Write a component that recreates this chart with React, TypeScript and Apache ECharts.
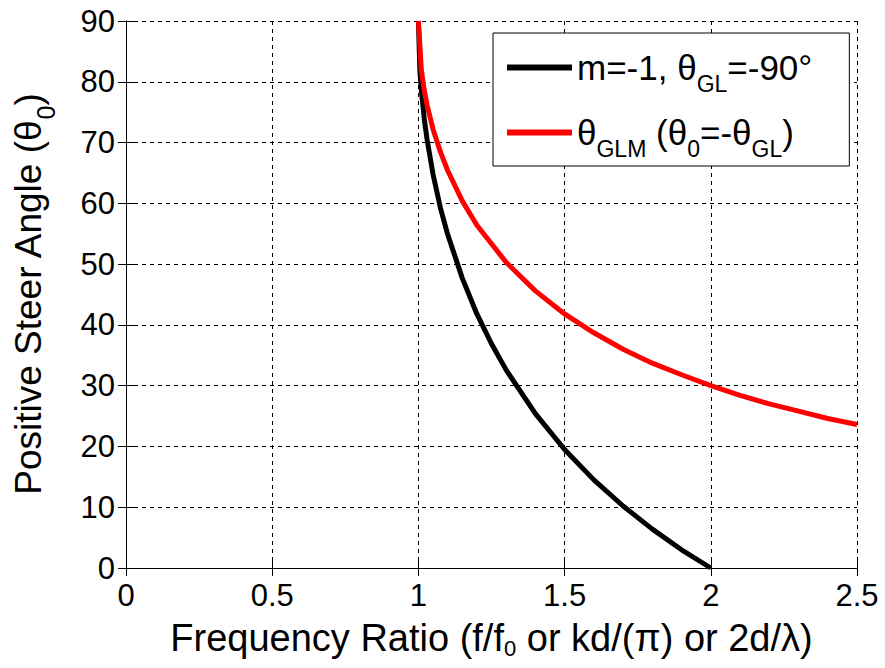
import React, { useEffect, useRef } from "react";
import * as echarts from "echarts";

// Frequency ratio (x) and positive steer angle in degrees (y)
const blackRatio = [1.0, 1.005, 1.01, 1.02, 1.03, 1.05, 1.075, 1.1, 1.15, 1.2, 1.25, 1.3, 1.4, 1.5, 1.6, 1.7, 1.8, 1.9, 2.0];
const blackAngle = [90, 81.9, 78.6, 73.9, 70.4, 64.8, 59.3, 54.9, 47.7, 41.8, 36.9, 32.6, 25.4, 19.5, 14.5, 10.2, 6.4, 3.0, 0];

const redRatio = [1.0, 1.01, 1.02, 1.03, 1.05, 1.075, 1.1, 1.15, 1.2, 1.3, 1.4, 1.5, 1.6, 1.7, 1.8, 1.9, 2.0, 2.1, 2.2, 2.3, 2.4, 2.5];
const redAngle = [90, 81.9, 78.6, 76.1, 72.2, 68.5, 65.4, 60.4, 56.4, 50.3, 45.6, 41.8, 38.7, 36.0, 33.7, 31.8, 30.0, 28.4, 27.0, 25.8, 24.6, 23.6];

const seriesNames = ["m=-1, θGL=-90°", "θGLM (θ0=-θGL)"];
const legendRich = [
  "{m|m=-1, θ}{s|GL}{m|=-90°}",
  "{m|θ}{s|GLM}{m| (θ}{s|0}{m|=-θ}{s|GL}{m|)}",
];

const xMin = 0, xMax = 2.5, xStep = 0.5;
const yMin = 0, yMax = 90, yStep = 10;

const FONT = "'Liberation Sans', Arial, Helvetica, sans-serif";

export default function App() {
  const ref = useRef<HTMLDivElement>(null);
  useEffect(() => {
    if (!ref.current) return;
    const chart = echarts.init(ref.current, null, { renderer: "svg" });
    const pairs = (xs: number[], ys: number[]) => xs.map((x, i) => [x, ys[i]]);
    const tickStyle = { show: true, inside: true, length: 8, lineStyle: { color: "#000", width: 1 } };
    const axisLine = { show: true, lineStyle: { color: "#000", width: 1 } };
    const split = { show: true, lineStyle: { color: "#000", width: 1, type: [4, 4] as any } };
    const label = { color: "#000", fontFamily: FONT, fontSize: 31 };
    chart.setOption({
      animation: false,
      backgroundColor: "#fff",
      grid: { left: 126, right: 28, top: 21, bottom: 100, containLabel: false, outerBoundsMode: "none" },
      xAxis: [
        {
          type: "value", min: xMin, max: xMax, interval: xStep,
          axisLine, axisTick: tickStyle, splitLine: split,
          axisLabel: { ...label, margin: 12 },
          name: "{t|Frequency Ratio (f/f}{s|0}{t| or kd/(π) or 2d/λ)}",
          nameLocation: "middle", nameGap: 38,
          nameTextStyle: {
            rich: {
              t: { fontFamily: FONT, fontSize: 38, color: "#000", lineHeight: 54 },
              s: { fontFamily: FONT, fontSize: 22, color: "#000", lineHeight: 22, padding: [22, 0, 0, 0] },
            },
          },
        },
        {
          type: "value", position: "top", min: xMin, max: xMax, interval: xStep,
          axisLine, axisTick: tickStyle, splitLine: { show: false }, axisLabel: { show: false },
        },
      ],
      yAxis: [
        {
          type: "value", min: yMin, max: yMax, interval: yStep,
          axisLine, axisTick: tickStyle, splitLine: split,
          axisLabel: { ...label, margin: 11 },
          name: "{t|Positive Steer Angle (θ}{s|0}{t|)}",
          nameLocation: "middle", nameGap: 76,
          nameTextStyle: {
            rich: {
              t: { fontFamily: FONT, fontSize: 37, color: "#000", lineHeight: 44 },
              s: { fontFamily: FONT, fontSize: 25, color: "#000", lineHeight: 25, padding: [36, 0, 0, 0] },
            },
          },
        },
        {
          type: "value", position: "right", min: yMin, max: yMax, interval: yStep,
          axisLine, axisTick: tickStyle, splitLine: { show: false }, axisLabel: { show: false },
        },
      ],
      legend: {
        show: true,
        orient: "vertical",
        left: 493,
        top: 33,
        padding: [7, 37, 6, 14],
        itemGap: 10,
        backgroundColor: "#fff",
        borderColor: "#000",
        borderWidth: 1,
        icon: "rect",
        itemWidth: 65,
        itemHeight: 6,
        data: [
          { name: seriesNames[0], itemStyle: { color: "#000" } },
          { name: seriesNames[1], itemStyle: { color: "#ff0000" } },
        ],
        formatter: (name: string) => legendRich[seriesNames.indexOf(name)],
        textStyle: {
          rich: {
            m: { fontFamily: FONT, fontSize: 35, color: "#000", lineHeight: 40 },
            s: { fontFamily: FONT, fontSize: 23, color: "#000", lineHeight: 23, padding: [32, 0, 0, 0] },
          },
        },
      },
      series: [
        {
          name: seriesNames[0], type: "line", data: pairs(blackRatio, blackAngle),
          showSymbol: false, symbol: "none", lineStyle: { color: "#000", width: 5 }, itemStyle: { color: "#000" },
          clip: true,
        },
        {
          name: seriesNames[1], type: "line", data: pairs(redRatio, redAngle),
          showSymbol: false, symbol: "none", lineStyle: { color: "#ff0000", width: 5 }, itemStyle: { color: "#ff0000" },
          clip: true,
        },
      ],
    });
    return () => chart.dispose();
  }, []);
  return <div ref={ref} style={{ width: 885, height: 668, position: "absolute", left: 0, top: 0 }} />;
}
